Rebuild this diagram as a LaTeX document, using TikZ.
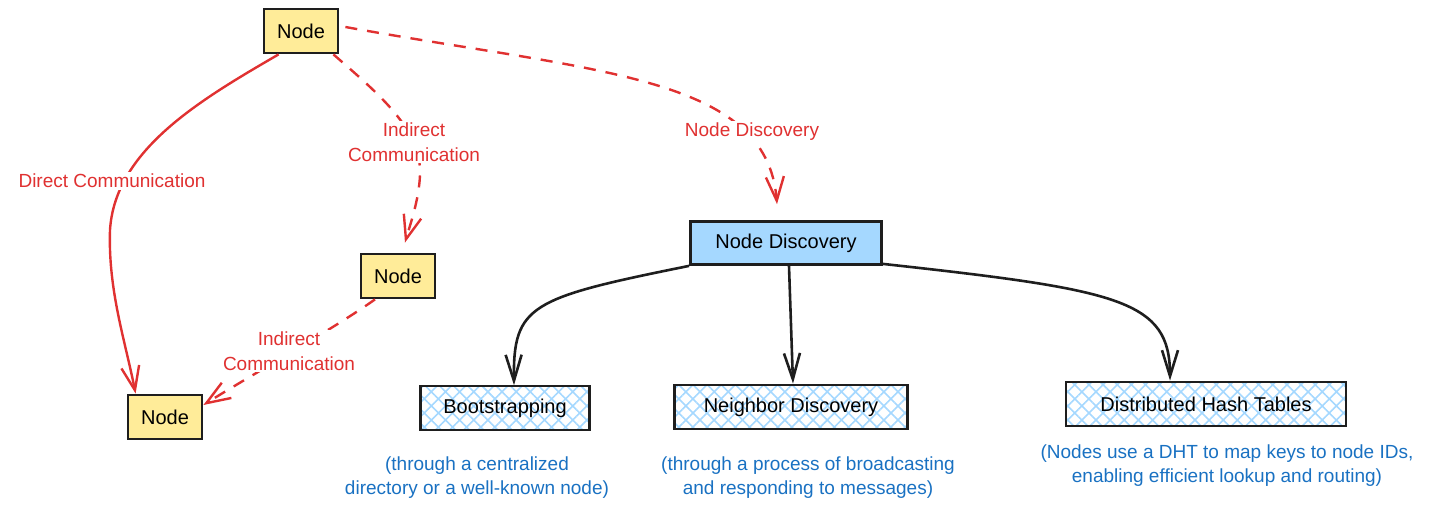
\documentclass[tikz,border=0pt]{standalone}
\usepackage{fontspec}
\setmainfont{Liberation Sans}
\usepackage{xcolor}
\usepackage{tikz}
\usetikzlibrary{arrows.meta, patterns.meta}

\definecolor{inkred}{HTML}{E03131}
\definecolor{inkblue}{HTML}{1971C2}
\definecolor{inkblack}{HTML}{1E1E1E}
\definecolor{padyellow}{HTML}{FFEC99}
\definecolor{padblue}{HTML}{A5D8FF}

\tikzset{
	yellowbox/.style={draw=inkblack, line width=1.4pt, fill=padyellow, minimum width=37pt, minimum height=22pt, font=\fontsize{10}{12}\selectfont},
	bluebox/.style={draw=inkblack, line width=1.4pt, fill=padblue, minimum width=95.5pt, minimum height=21.5pt, font=\fontsize{10}{12}\selectfont},
	hatchbox/.style={draw=inkblack, line width=1.4pt, pattern={Hatch[angle=45,distance=5pt,line width=0.8pt]}, pattern color=padblue, minimum height=22pt, font=\fontsize{10}{12}\selectfont},
	redlabel/.style={text=inkred, fill=white, inner sep=1pt, align=center, font=\fontsize{9.5}{12.5}\selectfont},
	bluenote/.style={text=inkblue, align=center, font=\fontsize{9.5}{12}\selectfont},
	redline/.style={draw=inkred, line width=1.2pt, -{Straight Barb[length=12pt,width=9pt]}},
	reddashed/.style={redline, dash pattern=on 6pt off 5pt},
	blackline/.style={draw=inkblack, line width=1.3pt, -{Straight Barb[length=13pt,width=8pt]}}
}

\begin{document}
\begin{tikzpicture}[x=0.5pt, y=-0.5pt]
	\useasboundingbox (0,0) rectangle (1447,512);

	% the three peers
	\foreach \name/\x/\y in {
		top/301/31,
		mid/398/276,
		low/165/417
	}{
		\node[yellowbox] (\name) at (\x,\y) {Node};
	}

	\node[bluebox] (disc) at (786,243) {Node Discovery};
	\node[hatchbox, minimum width=84.5pt] (boot) at (505,408) {Bootstrapping};
	\node[hatchbox, minimum width=116.5pt] (neigh) at (791,407) {Neighbor Discovery};
	\node[hatchbox, minimum width=140pt] (dht) at (1206,404) {Distributed Hash Tables};

	% red connections
	\draw[redline] ([xshift=8pt]top.south west) .. controls (200,100) and (115,150) .. (110,230) .. controls (108,290) and (125,340) .. ([xshift=4.5pt]low.north west);
	\draw[reddashed] ([xshift=-3pt]top.south east) .. controls (380,95) and (422,130) .. (420,175) .. controls (419,200) and (410,225) .. ([xshift=3.5pt,yshift=5pt]mid.north);
	\draw[reddashed] ([xshift=3pt,yshift=2pt]top.east) .. controls (594,72) and (767,75) .. ([xshift=-4.5pt,yshift=8pt]disc.north);
	\draw[reddashed] ([xshift=-11.5pt]mid.south) .. controls (335,328) and (243,380) .. ([yshift=6pt]low.east);

	\node[redlabel] (directlbl) at (112,181) {Direct Communication};
	\node[redlabel] (indirectlbl) at (414,142) {Indirect\\Communication};
	\node[redlabel] (discoverylbl) at (752,132) {Node Discovery};
	\node[redlabel] (indirectlblb) at (289,351) {Indirect\\Communication};

	% discovery methods
	\draw[blackline] (disc.south west) .. controls (530,298) and (513,305) .. ([xshift=4.5pt]boot.north);
	\draw[blackline] ([xshift=1.5pt]disc.south) -- ([xshift=1pt]neigh.north);
	\draw[blackline] ([yshift=1pt]disc.south east) .. controls (1120,290) and (1170,300) .. ([xshift=-18pt]dht.north);

	\node[bluenote] (bootnote) at (477,478) {(through a centralized\\directory or a well-known node)};
	\node[bluenote] (neighnote) at (808,478) {(through a process of broadcasting\\and responding to messages)};
	\node[bluenote] (dhtnote) at (1227,466) {(Nodes use a DHT to map keys to node IDs,\\enabling efficient lookup and routing)};
\end{tikzpicture}
\end{document}
